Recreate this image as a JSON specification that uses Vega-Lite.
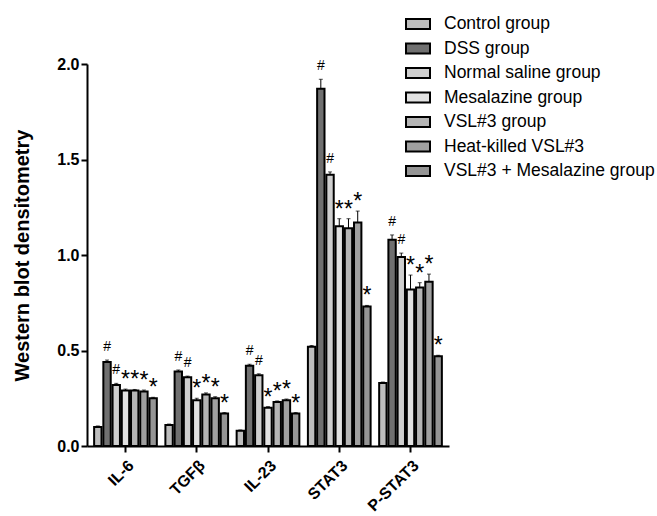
{
  "$schema": "https://vega.github.io/schema/vega-lite/v6.json",
  "width": 362,
  "height": 382,
  "autosize": "none",
  "padding": {"left": 87, "top": 64, "right": 208, "bottom": 70},
  "background": "white",
  "config": {
    "font": "Liberation Sans",
    "view": {"stroke": null},
    "axis": {"grid": false, "domainColor": "black", "domainWidth": 2, "tickColor": "black", "tickWidth": 2, "labelColor": "black", "titleColor": "black"}
  },
  "data": {
    "values": [
      {"marker": "IL-6", "group": "Control group", "value": 0.10, "err": 0.005, "sig": ""},
      {"marker": "IL-6", "group": "DSS group", "value": 0.44, "err": 0.01, "sig": "#"},
      {"marker": "IL-6", "group": "Normal saline group", "value": 0.32, "err": 0.008, "sig": "#"},
      {"marker": "IL-6", "group": "Mesalazine group", "value": 0.29, "err": 0.008, "sig": "*"},
      {"marker": "IL-6", "group": "VSL#3 group", "value": 0.29, "err": 0.006, "sig": "*"},
      {"marker": "IL-6", "group": "Heat-killed VSL#3", "value": 0.285, "err": 0.008, "sig": "*"},
      {"marker": "IL-6", "group": "VSL#3 + Mesalazine group", "value": 0.25, "err": 0.005, "sig": "*"},
      {"marker": "TGFβ", "group": "Control group", "value": 0.11, "err": 0.005, "sig": ""},
      {"marker": "TGFβ", "group": "DSS group", "value": 0.39, "err": 0.008, "sig": "#"},
      {"marker": "TGFβ", "group": "Normal saline group", "value": 0.36, "err": 0.006, "sig": "#"},
      {"marker": "TGFβ", "group": "Mesalazine group", "value": 0.24, "err": 0.01, "sig": "*"},
      {"marker": "TGFβ", "group": "VSL#3 group", "value": 0.27, "err": 0.008, "sig": "*"},
      {"marker": "TGFβ", "group": "Heat-killed VSL#3", "value": 0.25, "err": 0.008, "sig": "*"},
      {"marker": "TGFβ", "group": "VSL#3 + Mesalazine group", "value": 0.17, "err": 0.005, "sig": "*"},
      {"marker": "IL-23", "group": "Control group", "value": 0.08, "err": 0.004, "sig": ""},
      {"marker": "IL-23", "group": "DSS group", "value": 0.42, "err": 0.008, "sig": "#"},
      {"marker": "IL-23", "group": "Normal saline group", "value": 0.37, "err": 0.008, "sig": "#"},
      {"marker": "IL-23", "group": "Mesalazine group", "value": 0.20, "err": 0.006, "sig": "*"},
      {"marker": "IL-23", "group": "VSL#3 group", "value": 0.23, "err": 0.006, "sig": "*"},
      {"marker": "IL-23", "group": "Heat-killed VSL#3", "value": 0.24, "err": 0.006, "sig": "*"},
      {"marker": "IL-23", "group": "VSL#3 + Mesalazine group", "value": 0.17, "err": 0.005, "sig": "*"},
      {"marker": "STAT3", "group": "Control group", "value": 0.52, "err": 0.006, "sig": ""},
      {"marker": "STAT3", "group": "DSS group", "value": 1.87, "err": 0.05, "sig": "#"},
      {"marker": "STAT3", "group": "Normal saline group", "value": 1.42, "err": 0.015, "sig": "#"},
      {"marker": "STAT3", "group": "Mesalazine group", "value": 1.15, "err": 0.04, "sig": "*"},
      {"marker": "STAT3", "group": "VSL#3 group", "value": 1.14, "err": 0.05, "sig": "*"},
      {"marker": "STAT3", "group": "Heat-killed VSL#3", "value": 1.17, "err": 0.06, "sig": "*"},
      {"marker": "STAT3", "group": "VSL#3 + Mesalazine group", "value": 0.73, "err": 0.006, "sig": "*"},
      {"marker": "P-STAT3", "group": "Control group", "value": 0.33, "err": 0.005, "sig": ""},
      {"marker": "P-STAT3", "group": "DSS group", "value": 1.08, "err": 0.025, "sig": "#"},
      {"marker": "P-STAT3", "group": "Normal saline group", "value": 0.99, "err": 0.02, "sig": "#"},
      {"marker": "P-STAT3", "group": "Mesalazine group", "value": 0.82, "err": 0.075, "sig": "*"},
      {"marker": "P-STAT3", "group": "VSL#3 group", "value": 0.83, "err": 0.025, "sig": "*"},
      {"marker": "P-STAT3", "group": "Heat-killed VSL#3", "value": 0.86, "err": 0.04, "sig": "*"},
      {"marker": "P-STAT3", "group": "VSL#3 + Mesalazine group", "value": 0.47, "err": 0.005, "sig": "*"}
    ]
  },
  "transform": [{"calculate": "datum.value + datum.err", "as": "hi"}],
  "encoding": {
    "x": {
      "field": "marker", "type": "nominal", "sort": null,
      "scale": {"paddingInner": 0.12, "paddingOuter": 0.1},
      "axis": {"title": null, "labelAngle": -45, "labelFontSize": 16, "labelFontWeight": "bold", "tickSize": 6, "labelPadding": 5}
    },
    "xOffset": {"field": "group", "type": "nominal", "sort": null, "scale": {"paddingInner": 0.2}}
  },
  "layer": [
    {
      "mark": {"type": "bar", "stroke": "black", "strokeWidth": 2},
      "encoding": {
        "y": {
          "field": "value", "type": "quantitative",
          "scale": {"domain": [0, 2], "nice": false},
          "axis": {"title": "Western blot densitometry", "titleFontSize": 20, "titleFontWeight": "bold", "titlePadding": 24, "labelFontSize": 16, "labelFontWeight": "bold", "format": ".1f", "values": [0, 0.5, 1, 1.5, 2], "tickSize": 6, "labelPadding": 2}
        },
        "fill": {
          "field": "group", "type": "nominal", "sort": null,
          "scale": {
            "domain": ["Control group", "DSS group", "Normal saline group", "Mesalazine group", "VSL#3 group", "Heat-killed VSL#3", "VSL#3 + Mesalazine group"],
            "range": ["#bdbdbd", "#707070", "#cfcfcf", "#e2e2e2", "#b5b5b5", "#a0a0a0", "#959595"]
          },
          "legend": {
            "title": null, "orient": "none", "legendX": 318, "legendY": -53,
            "labelFontSize": 17.5, "labelColor": "black", "rowPadding": 1.5, "labelLimit": 0,
            "symbolType": "M-1,-0.42H1V0.42H-1Z", "symbolSize": 576,
            "symbolStrokeColor": "black", "symbolStrokeWidth": 2, "labelOffset": 13
          }
        }
      }
    },
    {
      "mark": {"type": "rule", "color": "black", "strokeWidth": 1},
      "encoding": {"y": {"field": "value", "type": "quantitative"}, "y2": {"field": "hi"}}
    },
    {
      "mark": {"type": "tick", "color": "black", "thickness": 1, "size": 4},
      "encoding": {"y": {"field": "hi", "type": "quantitative"}}
    },
    {
      "transform": [{"filter": "datum.sig == '#'"}],
      "mark": {"type": "text", "fontSize": 14, "baseline": "alphabetic", "dy": -9, "color": "black"},
      "encoding": {"y": {"field": "hi", "type": "quantitative"}, "text": {"field": "sig"}}
    },
    {
      "transform": [{"filter": "datum.sig == '*'"}],
      "mark": {"type": "text", "fontSize": 23, "baseline": "alphabetic", "dy": -2, "color": "black"},
      "encoding": {"y": {"field": "hi", "type": "quantitative"}, "text": {"field": "sig"}}
    }
  ]
}
